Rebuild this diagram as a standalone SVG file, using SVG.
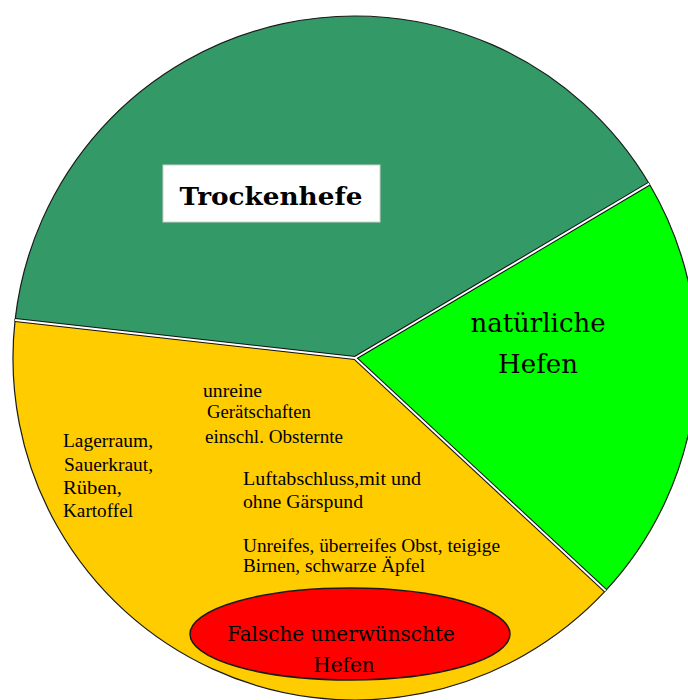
<svg xmlns="http://www.w3.org/2000/svg" width="688" height="700" viewBox="0 0 688 700">
<style>
.slice{stroke:#1a1a1a;stroke-width:1.2}
.sep-b{stroke:#111;stroke-width:4;stroke-linecap:butt}
.sep-w{stroke:#fff;stroke-width:2;stroke-linecap:butt}
.big{font-family:"DejaVu Serif","Liberation Serif",serif;fill:#000}
.small{font-family:"Liberation Serif","Times New Roman",serif;font-size:18px;fill:#000}
</style>
<rect width="688" height="700" fill="#fff"/>
<g id="slice-trockenhefe">
<path class="slice" fill="#339966" d="M355,358 L15.1,319.9 A342,342 0 0 1 649.2,183.7 Z"/>
</g>
<g id="slice-natuerliche">
<path class="slice" fill="#00ff00" d="M355,358 L649.2,183.7 A342,342 0 0 1 605.6,590.7 Z"/>
</g>
<g id="slice-falsche">
<path class="slice" fill="#ffcc00" d="M355,358 L605.6,590.7 A342,342 0 0 1 15.1,319.9 Z"/>
</g>
<g id="connectors">
<line class="sep-b" x1="355" y1="358" x2="15.1" y2="319.9"/>
<line class="sep-b" x1="355" y1="358" x2="649.2" y2="183.7"/>
<line class="sep-b" x1="355" y1="358" x2="605.6" y2="590.7"/>
<line class="sep-w" x1="355" y1="358" x2="15.1" y2="319.9"/>
<line class="sep-w" x1="355" y1="358" x2="649.2" y2="183.7"/>
<line class="sep-w" x1="355" y1="358" x2="605.6" y2="590.7"/>
</g>
<g id="label-trockenhefe">
<rect x="163" y="165" width="217" height="57" fill="#fff" stroke="#d0d0d0" stroke-width="1"/>
<text class="big" x="271" y="205" font-weight="bold" font-size="25" text-anchor="middle" textLength="183" lengthAdjust="spacingAndGlyphs">Trockenhefe</text>
</g>
<g id="label-natuerliche">
<text class="big" font-size="26" x="538" y="332" text-anchor="middle">natürliche</text>
<text class="big" font-size="26" x="538" y="373" text-anchor="middle">Hefen</text>
</g>
<g id="notes">
<text class="small" x="203" y="397" textLength="59" lengthAdjust="spacingAndGlyphs">unreine</text>
<text class="small" x="207" y="418" textLength="104" lengthAdjust="spacingAndGlyphs">Gerätschaften</text>
<text class="small" x="205" y="443" textLength="138" lengthAdjust="spacingAndGlyphs">einschl. Obsternte</text>
<text class="small" x="63" y="447" textLength="90" lengthAdjust="spacingAndGlyphs">Lagerraum,</text>
<text class="small" x="64" y="471" textLength="89" lengthAdjust="spacingAndGlyphs">Sauerkraut,</text>
<text class="small" x="63" y="494" textLength="59" lengthAdjust="spacingAndGlyphs">Rüben,</text>
<text class="small" x="63" y="517" textLength="70" lengthAdjust="spacingAndGlyphs">Kartoffel</text>
<text class="small" x="243" y="485" textLength="178" lengthAdjust="spacingAndGlyphs">Luftabschluss,mit und</text>
<text class="small" x="243" y="508" textLength="120" lengthAdjust="spacingAndGlyphs">ohne Gärspund</text>
<text class="small" x="243" y="552" textLength="257" lengthAdjust="spacingAndGlyphs">Unreifes, überreifes Obst, teigige</text>
<text class="small" x="243" y="572" textLength="182" lengthAdjust="spacingAndGlyphs">Birnen, schwarze Äpfel</text>
</g>
<g id="node-falsche">
<ellipse cx="350" cy="634" rx="160" ry="46" fill="#ff0000" stroke="#1a1a1a" stroke-width="1.5"/>
<text class="big" font-size="20" x="341" y="641" text-anchor="middle">Falsche unerwünschte</text>
<text class="big" font-size="20" x="344" y="672" text-anchor="middle">Hefen</text>
</g>
</svg>
